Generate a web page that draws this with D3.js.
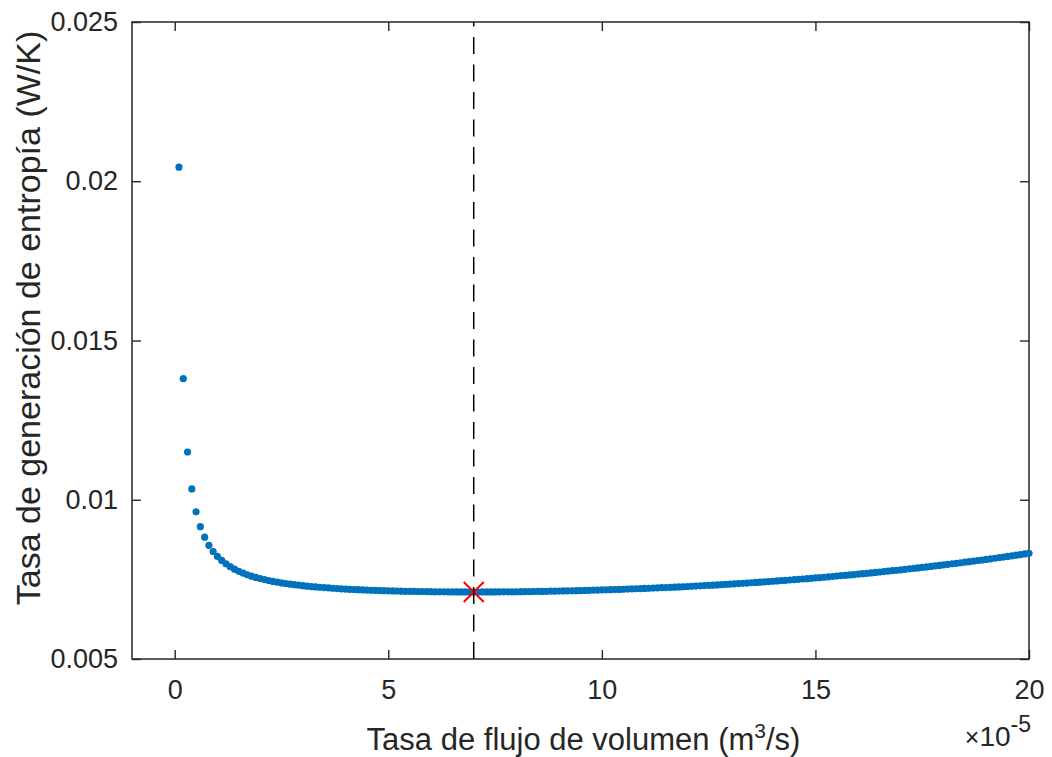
<!DOCTYPE html>
<html>
<head>
<meta charset="utf-8">
<script src="https://cdn.jsdelivr.net/npm/d3@7"></script>
<style>
  html, body { margin: 0; padding: 0; background: #fff; }
  svg { display: block; }
  text { font-family: "Liberation Sans", Arial, Helvetica, sans-serif; fill: #262626; }
</style>
</head>
<body>
<svg id="chart" width="1052" height="757"></svg>
<script>
// ---- data (x in units of 1e-5 m^3/s, y in W/K) ----
const flowRate = [
  0.1,0.2,0.3,0.4,0.5,0.6,0.7,0.8,0.9,1.0,
  1.1,1.2,1.3,1.4,1.5,1.6,1.7,1.8,1.9,2.0,
  2.1,2.2,2.3,2.4,2.5,2.6,2.7,2.8,2.9,3.0,
  3.1,3.2,3.3,3.4,3.5,3.6,3.7,3.8,3.9,4.0,
  4.1,4.2,4.3,4.4,4.5,4.6,4.7,4.8,4.9,5.0,
  5.1,5.2,5.3,5.4,5.5,5.6,5.7,5.8,5.9,6.0,
  6.1,6.2,6.3,6.4,6.5,6.6,6.7,6.8,6.9,7.0,
  7.1,7.2,7.3,7.4,7.5,7.6,7.7,7.8,7.9,8.0,
  8.1,8.2,8.3,8.4,8.5,8.6,8.7,8.8,8.9,9.0,
  9.1,9.2,9.3,9.4,9.5,9.6,9.7,9.8,9.9,10.0,
  10.1,10.2,10.3,10.4,10.5,10.6,10.7,10.8,10.9,11.0,
  11.1,11.2,11.3,11.4,11.5,11.6,11.7,11.8,11.9,12.0,
  12.1,12.2,12.3,12.4,12.5,12.6,12.7,12.8,12.9,13.0,
  13.1,13.2,13.3,13.4,13.5,13.6,13.7,13.8,13.9,14.0,
  14.1,14.2,14.3,14.4,14.5,14.6,14.7,14.8,14.9,15.0,
  15.1,15.2,15.3,15.4,15.5,15.6,15.7,15.8,15.9,16.0,
  16.1,16.2,16.3,16.4,16.5,16.6,16.7,16.8,16.9,17.0,
  17.1,17.2,17.3,17.4,17.5,17.6,17.7,17.8,17.9,18.0,
  18.1,18.2,18.3,18.4,18.5,18.6,18.7,18.8,18.9,19.0,
  19.1,19.2,19.3,19.4,19.5,19.6,19.7,19.8,19.9,20.0
];
const entropyGen = [
  0.020443,0.013800,0.011500,0.010340,0.009620,0.009155,0.008825,0.008570,0.008375,0.008222,
  0.008095,0.007990,0.007898,0.007820,0.007754,0.007697,0.007645,0.007600,0.007560,0.007525,
  0.007493,0.007464,0.007437,0.007413,0.007390,0.007370,0.007351,0.007333,0.007317,0.007302,
  0.007288,0.007275,0.007263,0.007251,0.007241,0.007231,0.007221,0.007212,0.007204,0.007196,
  0.007189,0.007182,0.007176,0.007170,0.007164,0.007158,0.007153,0.007149,0.007144,0.007140,
  0.007136,0.007133,0.007130,0.007126,0.007124,0.007121,0.007119,0.007116,0.007114,0.007113,
  0.007111,0.007109,0.007108,0.007107,0.007106,0.007106,0.007105,0.007105,0.007104,0.007104,
  0.007104,0.007105,0.007105,0.007106,0.007106,0.007107,0.007108,0.007109,0.007110,0.007112,
  0.007113,0.007115,0.007117,0.007119,0.007121,0.007123,0.007125,0.007128,0.007130,0.007133,
  0.007136,0.007139,0.007142,0.007145,0.007149,0.007152,0.007156,0.007160,0.007163,0.007168,
  0.007172,0.007176,0.007180,0.007185,0.007190,0.007194,0.007199,0.007205,0.007210,0.007215,
  0.007221,0.007226,0.007232,0.007238,0.007244,0.007250,0.007256,0.007263,0.007269,0.007276,
  0.007283,0.007290,0.007297,0.007304,0.007312,0.007319,0.007327,0.007335,0.007343,0.007351,
  0.007359,0.007368,0.007376,0.007385,0.007394,0.007403,0.007412,0.007421,0.007431,0.007440,
  0.007450,0.007460,0.007470,0.007480,0.007491,0.007501,0.007512,0.007522,0.007534,0.007545,
  0.007556,0.007567,0.007579,0.007591,0.007603,0.007615,0.007627,0.007639,0.007652,0.007665,
  0.007678,0.007691,0.007704,0.007717,0.007731,0.007745,0.007759,0.007773,0.007787,0.007801,
  0.007816,0.007831,0.007846,0.007861,0.007876,0.007892,0.007907,0.007923,0.007939,0.007955,
  0.007972,0.007988,0.008005,0.008022,0.008039,0.008056,0.008074,0.008091,0.008109,0.008127,
  0.008145,0.008164,0.008182,0.008201,0.008220,0.008239,0.008259,0.008278,0.008298,0.008318
];
const optimumFlow = [7.0];
const optimumEntropy = [0.007104];
const xTickValues = [0, 5, 10, 15, 20];
const xTickLabels = ["0", "5", "10", "15", "20"];
const yTickValues = [0.005, 0.01, 0.015, 0.02, 0.025];
const yTickLabels = ["0.005", "0.01", "0.015", "0.02", "0.025"];
const xDomain = [-1, 20];
const yDomain = [0.005, 0.025];

// ---- layout ----
const L = 132, R = 1029, T = 22, B = 659;
const axisColor = "#262626";
const svg = d3.select("#chart");
svg.append("rect").attr("width", 1052).attr("height", 757).attr("fill", "#fff");

const x = d3.scaleLinear().domain(xDomain).range([L, R]);
const y = d3.scaleLinear().domain(yDomain).range([B, T]);

const tickFont = 27;

function styleAxis(g) {
  g.select(".domain").remove();
  g.selectAll(".tick line").attr("stroke", axisColor).attr("stroke-width", 1.4);
  g.selectAll(".tick text").attr("fill", axisColor)
    .style("font-size", tickFont + "px")
    .style("font-family", '"Liberation Sans", Arial, Helvetica, sans-serif');
}

svg.append("g").attr("transform", `translate(0,${B})`)
  .call(d3.axisBottom(x).tickValues(xTickValues)
    .tickFormat((d, i) => xTickLabels[i]).tickSize(-9).tickPadding(21))
  .call(styleAxis);
svg.append("g").attr("transform", `translate(0,${T})`)
  .call(d3.axisTop(x).tickValues(xTickValues).tickFormat("").tickSize(-9))
  .call(styleAxis);
svg.append("g").attr("transform", `translate(${L},0)`)
  .call(d3.axisLeft(y).tickValues(yTickValues)
    .tickFormat((d, i) => yTickLabels[i]).tickSize(-9).tickPadding(14))
  .call(styleAxis);
svg.append("g").attr("transform", `translate(${R},0)`)
  .call(d3.axisRight(y).tickValues(yTickValues).tickFormat("").tickSize(-9))
  .call(styleAxis);

// box
svg.append("rect")
  .attr("x", L).attr("y", T).attr("width", R - L).attr("height", B - T)
  .attr("fill", "none").attr("stroke", axisColor).attr("stroke-width", 1.5);

// data points
const pts = flowRate.map((q, i) => ({ q, s: entropyGen[i] }));
svg.append("g").selectAll("circle").data(pts).join("circle")
  .attr("cx", d => x(d.q)).attr("cy", d => y(d.s))
  .attr("r", 3.6).attr("fill", "#0072BD");

// optimum marker (red x)
const mk = svg.append("g");
optimumFlow.forEach((q, i) => {
  const cx = x(q), cy = y(optimumEntropy[i]), h = 10;
  mk.append("path")
    .attr("d", `M${cx - h},${cy - h}L${cx + h},${cy + h}M${cx - h},${cy + h}L${cx + h},${cy - h}`)
    .attr("stroke", "#FF0000").attr("stroke-width", 2).attr("fill", "none");
});

// dashed vertical line at optimum
optimumFlow.forEach(q => {
  svg.append("line")
    .attr("x1", x(q)).attr("x2", x(q)).attr("y1", B).attr("y2", T)
    .attr("stroke", "#000").attr("stroke-width", 1.5)
    .attr("stroke-dasharray", "17,10.5");
});

// x axis label
const xl = svg.append("text")
  .attr("x", (L + R) / 2 + 3).attr("y", 750)
  .attr("text-anchor", "middle").style("font-size", "31px");
xl.append("tspan").text("Tasa de flujo de volumen (m");
xl.append("tspan").attr("dy", -12).style("font-size", "21px").text("3");
xl.append("tspan").attr("dy", 12).text("/s)");

// exponent label
const ex = svg.append("text")
  .attr("x", 1031).attr("y", 746)
  .attr("text-anchor", "end").style("font-size", "28px");
ex.append("tspan").style("font-size", "25px").text("×");
ex.append("tspan").text("10");
ex.append("tspan").attr("dy", -14).style("font-size", "23px").text("-5");

// y axis label
svg.append("text")
  .attr("transform", `translate(40,318) rotate(-90)`)
  .attr("text-anchor", "middle").style("font-size", "34px")
  .text("Tasa de generación de entropía (W/K)");
</script>
</body>
</html>
